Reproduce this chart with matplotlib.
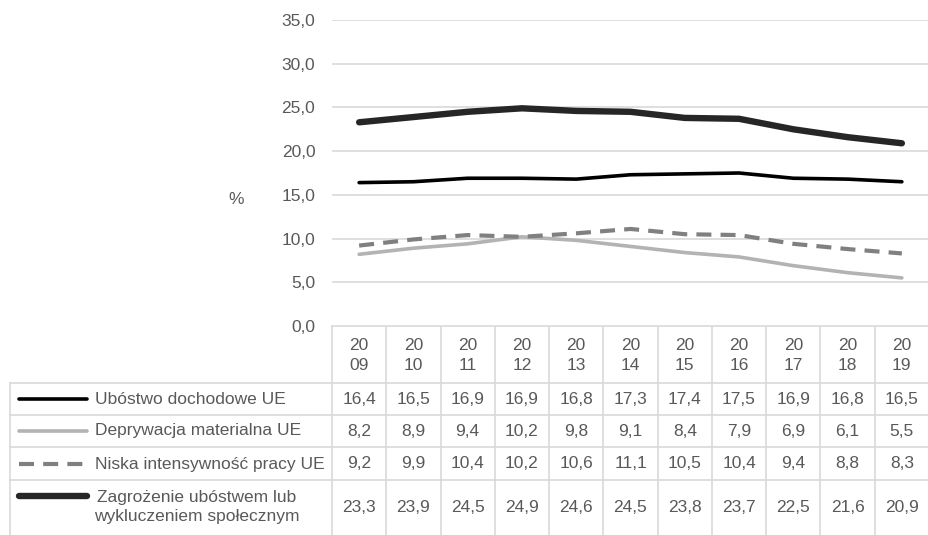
import matplotlib
matplotlib.use("Agg")
import matplotlib.pyplot as plt
import matplotlib.transforms as mtransforms
import numpy as np

plt.rcParams["font.family"] = ["Liberation Sans", "DejaVu Sans"]

# ── data ─────────────────────────────────────────────────────────────────────
years = [2009, 2010, 2011, 2012, 2013, 2014, 2015, 2016, 2017, 2018, 2019]
ubostwo = [16.4, 16.5, 16.9, 16.9, 16.8, 17.3, 17.4, 17.5, 16.9, 16.8, 16.5]
deprywacja = [8.2, 8.9, 9.4, 10.2, 9.8, 9.1, 8.4, 7.9, 6.9, 6.1, 5.5]
niska = [9.2, 9.9, 10.4, 10.2, 10.6, 11.1, 10.5, 10.4, 9.4, 8.8, 8.3]
zagrozenie = [23.3, 23.9, 24.5, 24.9, 24.6, 24.5, 23.8, 23.7, 22.5, 21.6, 20.9]

series_labels = ["Ubóstwo dochodowe UE", "Deprywacja materialna UE",
                 "Niska intensywność pracy UE",
                 "Zagrożenie ubóstwem lub\nwykluczeniem społecznym"]
series_values = [ubostwo, deprywacja, niska, zagrozenie]
series_style = [
    dict(color="#000000", lw=2.6, ls="-"),
    dict(color="#b3b3b3", lw=2.6, ls="-"),
    dict(color="#808080", lw=3.0, ls=(0, (3.6, 2.2))),
    dict(color="#262626", lw=4.6, ls="-"),
]
yticks = np.arange(0, 36, 5)

W, H = 929, 535
TXT = "#595959"
GRID = "#d9d9d9"
FS = 12.5

fig = plt.figure(figsize=(W / 100, H / 100), dpi=100)

# plot area in pixel terms
x0, x1, ytop, ybot = 332, 929, 20, 326
ax = fig.add_axes([x0 / W, (H - ybot) / H, (x1 - x0) / W, (ybot - ytop) / H])
n = len(years)
xs = np.arange(n)
for vals, st in zip(series_values, series_style):
    ax.plot(xs, vals, solid_capstyle="round", dash_capstyle="butt", **st)
ax.set_xlim(-0.5, n - 0.5)
ax.set_ylim(0, 35)
ax.set_yticks(yticks)
ax.set_yticklabels([f"{v:.1f}".replace(".", ",") for v in yticks])
ax.set_xticks([])
ax.grid(axis="y", color=GRID, lw=1.2)
ax.set_axisbelow(True)
for s in ax.spines.values():
    s.set_visible(False)
ax.tick_params(axis="y", length=0, pad=12, labelsize=FS, labelcolor=TXT)

# overlay in pixel coordinates for the data table
ov = fig.add_axes([0, 0, 1, 1], zorder=-1)
ov.set_xlim(0, W)
ov.set_ylim(H, 0)
ov.axis("off")
tr = mtransforms.blended_transform_factory(ax.transData, ov.transData)

ov.text(236, 199, "%", ha="center", va="center", fontsize=FS, color=TXT)

row_lines = [383, 415, 447, 480, 535]
row_mid = [399, 431, 464, 507]
# horizontal lines
ov.plot([x0, x1], [ybot, ybot], color=GRID, lw=1.2)
for y in row_lines[:-1]:
    ov.plot([10, x1], [y, y], color=GRID, lw=1.2)
ov.plot([10, 10], [row_lines[0], H], color=GRID, lw=1.2)
# vertical column separators
for i in range(n + 1):
    ov.plot([i - 0.5, i - 0.5], [ybot, H], color=GRID, lw=1.2, transform=tr)

# year header
for i, yr in enumerate(years):
    s = str(yr)
    ov.text(i, (ybot + row_lines[0]) / 2 + 1, s[:2] + "\n" + s[2:], transform=tr,
            ha="center", va="center", fontsize=FS, color=TXT, linespacing=1.45)

# rows
for r, (lab, vals, st) in enumerate(zip(series_labels, series_values, series_style)):
    ym = row_mid[r]
    if "\n" in lab:
        ky = ym - 11
        ov.text(94, ym, lab, ha="left", va="center", fontsize=FS,
                color=TXT, linespacing=1.3, multialignment="center")
    else:
        ky = ym
        ov.text(95, ym, lab, ha="left", va="center", fontsize=FS, color=TXT)
    ov.plot([19, 87], [ky, ky], color=st["color"], lw=st["lw"], ls=st["ls"],
            solid_capstyle="round", dash_capstyle="butt")
    for i, v in enumerate(vals):
        ov.text(i, ym, f"{v:.1f}".replace(".", ","), transform=tr,
                ha="center", va="center", fontsize=FS, color=TXT)

fig.savefig("out.png", dpi=100)
